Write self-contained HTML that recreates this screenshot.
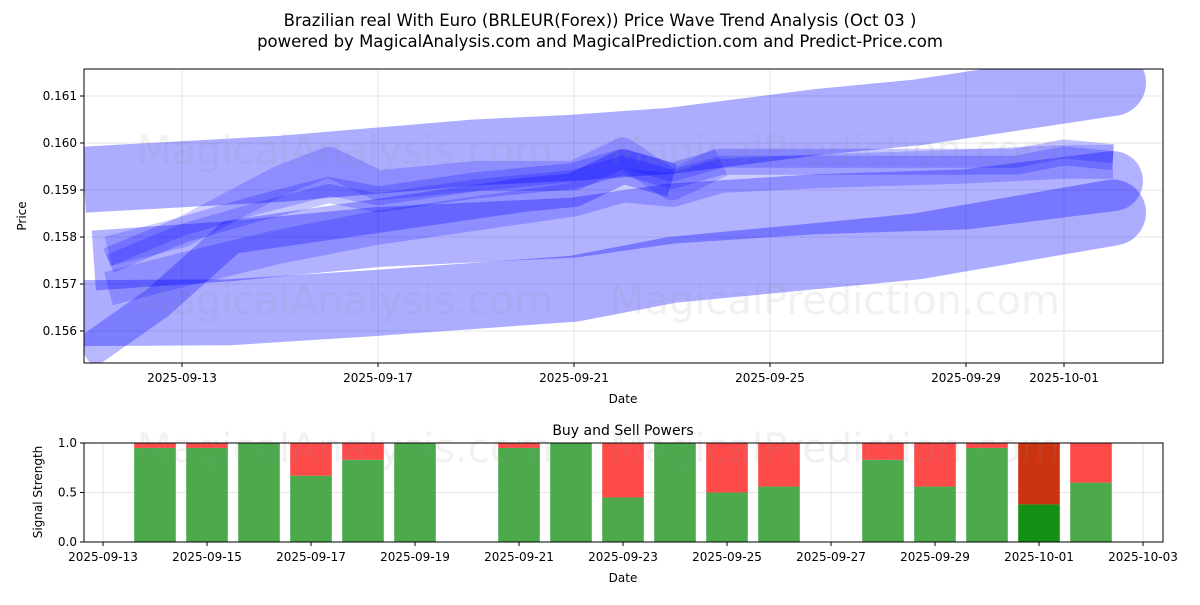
<!DOCTYPE html>
<html><head><meta charset="utf-8"><style>
body{margin:0;background:#fff;font-family:"Liberation Sans","DejaVu Sans",sans-serif;}
svg text{font-family:"DejaVu Sans","Liberation Sans",sans-serif;}
</style></head><body>
<svg id="c" width="1200" height="600" viewBox="0 0 1200 600" xmlns="http://www.w3.org/2000/svg">
<text x="600" y="26" font-size="16.5" text-anchor="middle">Brazilian real With Euro (BRLEUR(Forex)) Price Wave Trend Analysis (Oct 03 )</text>
<text x="600" y="47" font-size="16.5" text-anchor="middle">powered by MagicalAnalysis.com and MagicalPrediction.com and Predict-Price.com</text>
<g id="topG"></g>
<g id="botG"></g>
</svg>
<script>
// ---- data ----
const priceTicks = [0.156,0.157,0.158,0.159,0.160,0.161];
const topDateTicks = [13,17,21,25,29,31];
const topDateLabels = ["2025-09-13","2025-09-17","2025-09-21","2025-09-25","2025-09-29","2025-10-01"];
const bandUpperDays = [11,15,19,21,23,26,28,32];
const bandUpperVals = [0.15922,0.15945,0.1598,0.1599,0.16005,0.16045,0.16065,0.16128];
const bandMidDays = [11.2,14,17,21,23,26,29,32];
const bandMidVals = [0.1575,0.1577,0.1580,0.1582,0.1585,0.1587,0.1588,0.15919];
const bandLowDays = [11,14,17,21,23,26,28,32];
const bandLowVals = [0.15638,0.1564,0.1566,0.1569,0.1573,0.1576,0.1578,0.15852];
const waveDays = [11.5,13,14.5,16,17,19,21,22,23,24,26,28,30,31,32];
const waveVals = [0.1575,0.15815,0.1586,0.1590,0.1588,0.1591,0.1593,0.1596,0.1593,0.1596,0.1596,0.1596,0.1596,0.1598,0.1597];
const wave2Days = [11.5,13,15,17,19,21,22,23,24,26,29,31,32];
const wave2Vals = [0.1569,0.1573,0.1578,0.1582,0.1585,0.1588,0.1591,0.1590,0.1593,0.1594,0.1595,0.1596,0.1596];
const steepDays = [11,12.5,14,16,18,20,21,22,23];
const steepVals = [0.1555,0.1566,0.1580,0.1583,0.1586,0.1589,0.1590,0.1595,0.1592];
const wave3Days = [11.5,13,15,16,17,19,21,22,23,24];
const wave3Vals = [0.1577,0.1581,0.1592,0.1596,0.1591,0.1593,0.1593,0.1598,0.1591,0.1596];
const sigDays = [14,15,16,17,18,19,21,22,23,24,25,26,28,29,30,31,32];
const buyVals = [0.95,0.95,1.0,0.67,0.83,1.0,0.95,1.0,0.45,1.0,0.5,0.56,0.83,0.56,0.95,0.38,0.6];
const sellVals = [0.05,0.05,0.0,0.33,0.17,0.0,0.05,0.0,0.55,0.0,0.5,0.44,0.17,0.44,0.05,0.62,0.4];
const botDateTicks = [13,15,17,19,21,23,25,27,29,31,33];
const botDateLabels = ["2025-09-13","2025-09-15","2025-09-17","2025-09-19","2025-09-21","2025-09-23","2025-09-25","2025-09-27","2025-09-29","2025-10-01","2025-10-03"];
const sigTicks = [0,0.5,1];
const sigTickLabels = ["0.0","0.5","1.0"];

const NS="http://www.w3.org/2000/svg";
function mk(p,tag,a,txt){const e=document.createElementNS(NS,tag);for(const k in a)e.setAttribute(k,a[k]);if(txt!=null)e.textContent=txt;p.appendChild(e);return e;}
const topG=document.getElementById('topG'), botG=document.getElementById('botG');
const TL=84,TR=1163,TT=69,TB=363;
const xT=d=>182+(d-13)*49, yT=v=>143+(0.160-v)*47000;
const BL=84,BR=1163,BT=443,BB=542;
const xB=d=>103+(d-13)*52, yB=v=>BB-v*(BB-BT);

priceTicks.forEach(v=>{const g=mk(topG,'line',{x1:TL,x2:TR,y1:yT(v),y2:yT(v),stroke:'#ddd','stroke-width':0.8});

});
topDateTicks.forEach(d=>{const g=mk(topG,'line',{x1:xT(d),x2:xT(d),y1:TT,y2:TB,stroke:'#ddd','stroke-width':0.8});

});
const cp=mk(topG,'clipPath',{id:'cp'});mk(cp,'rect',{x:TL,y:TT,width:TR-TL,height:TB-TT});
const series=mk(topG,'g',{'clip-path':'url(#cp)'});
function band(days,vals,w,op,name,endCap){
  const grp=mk(series,'g',{opacity:op});
  
  
  const pts=days.map((d,i)=>xT(d)+','+yT(vals[i])).join(' ');
  mk(grp,'polyline',{points:pts,fill:'none',stroke:'#0000ff','stroke-width':w,'stroke-linejoin':'round','stroke-linecap':'butt'});
  if(endCap){const n=days.length-1;
    mk(grp,'circle',{cx:xT(days[n]),cy:yT(vals[n]),r:w/2,fill:'#0000ff'});}
}
band(bandUpperDays,bandUpperVals,66,0.32,'upper-band',true);
band(bandLowDays,bandLowVals,66,0.32,'lower-band',true);
band(bandMidDays,bandMidVals,60,0.3,'middle-band',true);
band(steepDays,steepVals,34,0.28,'wave-steep',false);
band(wave3Days,wave3Vals,30,0.18,'wave-3',false);
band(wave2Days,wave2Vals,34,0.2,'wave-2',false);
band(waveDays,waveVals,26,0.22,'wave-main',false);
band(waveDays,waveVals,12,0.2,'wave-core',false);
[[345,150,'MagicalAnalysis.com'],[835,150,'MagicalPrediction.com'],[345,300,'MagicalAnalysis.com'],[835,300,'MagicalPrediction.com']].forEach(w=>{
 const t=mk(topG,'text',{x:w[0],y:w[1]+14,'font-size':40,'text-anchor':'middle',fill:'#888','fill-opacity':0.12},w[2]);
 
 });
mk(topG,'rect',{x:TL,y:TT,width:TR-TL,height:TB-TT,fill:'none',stroke:'#000','stroke-width':1});
priceTicks.forEach(v=>{mk(topG,'line',{x1:TL-4,x2:TL,y1:yT(v),y2:yT(v),stroke:'#000'});
 const t=mk(topG,'text',{x:TL-7,y:yT(v)+4,'font-size':12,'text-anchor':'end'},v.toFixed(3));
 
 });
topDateTicks.forEach((d,i)=>{mk(topG,'line',{x1:xT(d),x2:xT(d),y1:TB,y2:TB+4,stroke:'#000'});
 const t=mk(topG,'text',{x:xT(d),y:TB+19,'font-size':12,'text-anchor':'middle'},topDateLabels[i]);
 
 });
let t=mk(topG,'text',{x:623,y:403,'font-size':12,'text-anchor':'middle'},'Date');


t=mk(topG,'text',{x:26,y:216,'font-size':12,'text-anchor':'middle',transform:'rotate(-90 26 216)'},'Price');



t=mk(botG,'text',{x:623,y:435,'font-size':14,'text-anchor':'middle'},'Buy and Sell Powers');


sigTicks.forEach(v=>{const g=mk(botG,'line',{x1:BL,x2:BR,y1:yB(v),y2:yB(v),stroke:'#ddd','stroke-width':0.8});

});
botDateTicks.forEach(d=>{const g=mk(botG,'line',{x1:xB(d),x2:xB(d),y1:BT,y2:BB,stroke:'#ddd','stroke-width':0.8});

});
const bw=52*0.8;
sigDays.forEach((d,i)=>{
 const dark=(buyVals[i]<0.4);
 const g=mk(botG,'rect',{x:xB(d)-bw/2,y:yB(buyVals[i]),width:bw,height:yB(0)-yB(buyVals[i]),fill:dark?'#159015':'#4caa4c'});
 
 
 const r=mk(botG,'rect',{x:xB(d)-bw/2,y:yB(buyVals[i]+sellVals[i]),width:bw,height:yB(buyVals[i])-yB(buyVals[i]+sellVals[i]),fill:dark?'#cc3311':'#ff4a4a'});
 
 
});
[[345,'MagicalAnalysis.com'],[835,'MagicalPrediction.com']].forEach(w=>{
 const t=mk(botG,'text',{x:w[0],y:462,'font-size':40,'text-anchor':'middle',fill:'#888','fill-opacity':0.12},w[1]);
 
 });
mk(botG,'rect',{x:BL,y:BT,width:BR-BL,height:BB-BT,fill:'none',stroke:'#000','stroke-width':1});
sigTicks.forEach((v,i)=>{mk(botG,'line',{x1:BL-4,x2:BL,y1:yB(v),y2:yB(v),stroke:'#000'});
 const t=mk(botG,'text',{x:BL-7,y:yB(v)+4,'font-size':12,'text-anchor':'end'},sigTickLabels[i]);
 
 });
botDateTicks.forEach((d,i)=>{mk(botG,'line',{x1:xB(d),x2:xB(d),y1:BB,y2:BB+4,stroke:'#000'});
 const t=mk(botG,'text',{x:xB(d),y:BB+19,'font-size':12,'text-anchor':'middle'},botDateLabels[i]);
 
 });
t=mk(botG,'text',{x:623,y:582,'font-size':12,'text-anchor':'middle'},'Date');


t=mk(botG,'text',{x:42,y:492,'font-size':12,'text-anchor':'middle',transform:'rotate(-90 42 492)'},'Signal Strength');


</script>
</body></html>
